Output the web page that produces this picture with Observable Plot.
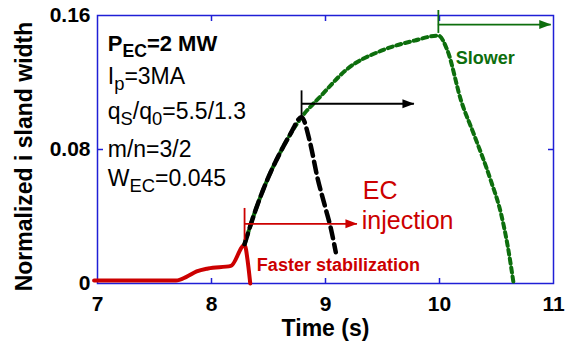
<!DOCTYPE html>
<html><head><meta charset="utf-8">
<script src="https://cdn.jsdelivr.net/npm/d3@7"></script>
<script src="https://cdn.jsdelivr.net/npm/@observablehq/plot@0.6"></script>
<style>body{margin:0;background:#fff} svg{display:block}</style>
</head><body><div id="chart"></div>
<script>
// ---- data ----
const xTicks = [7, 8, 9, 10, 11];
const xTickLabels = ["7", "8", "9", "10", "11"];
const xInnerTicks = [8, 9, 10];
const yTicks = [0, 0.08, 0.16];
const yInnerTicks = [0.08];
const yTickLabels = ["0", "0.08", "0.16"];

const redT = [6.97, 7.69, 7.78, 7.87, 7.97, 8.17, 8.29, 8.32, 8.34];
const redV = [0.0018, 0.0018, 0.0040, 0.0072, 0.0090, 0.0105, 0.0230, 0.0120, 0.0];

const blackT = [8.29, 8.39, 8.49, 8.59, 8.69, 8.79, 8.86, 8.93, 9.00, 9.05, 9.09];
const blackV = [0.0235, 0.0445, 0.0620, 0.0765, 0.0890, 0.0993, 0.0854, 0.063, 0.045, 0.032, 0.0187];

const greenT = [8.29, 8.39, 8.49, 8.59, 8.69, 8.79, 8.96, 9.19, 9.49, 9.78, 9.99, 10.07, 10.19, 10.30, 10.45, 10.54, 10.60, 10.65];
const greenV = [0.0235, 0.0445, 0.0620, 0.0765, 0.0890, 0.0993, 0.112, 0.128, 0.139, 0.145, 0.148, 0.139, 0.109, 0.0894, 0.0615, 0.0416, 0.0217, 0.0];

// EC switch-on markers (vertical tick + arrow)
const markerColor = ["#cc0000", "#000000", "#0d6e0d"];
const markerT = [8.29, 8.79, 9.99];
const markerTickLo = [0.0257, 0.099, 0.1493];
const markerTickHi = [0.0448, 0.115, 0.163];
const markerArrowV = [0.0356, 0.1073, 0.1546];
const markerArrowEnd = [9.28, 9.78, 10.98];

const infoLines = ["P_{EC}=2 MW", "I_{p}=3MA", "q_{S}/q_{0}=5.5/1.3", "m/n=3/2", "W_{EC}=0.045"];
const infoV = [0.1391, 0.1194, 0.0985, 0.0758, 0.0585];
const infoT = [7.09, 7.09, 7.09, 7.09, 7.09];

const ecText = ["EC", "injection"];
const ecT = [9.327, 9.318];
const ecV = [0.0507, 0.0328];
const fastText = ["Faster stabilization"], fastT = [8.398], fastV = [0.0073];
const slowText = ["Slower"], slowT = [10.143], slowV = [0.1313];

const xLabel = "Time (s)";
const yLabel = "Normalized i sland width";

// ---- build tables ----
const zip = (T, V) => T.map((t, i) => ({t, v: V[i]}));
const red = zip(redT, redV), black = zip(blackT, blackV), green = zip(greenT, greenV);
const markers = markerT.map((t, i) => ({t, lo: markerTickLo[i], hi: markerTickHi[i], v: markerArrowV[i], end: markerArrowEnd[i], color: markerColor[i]}));
const info = infoLines.map((s, i) => ({s, t: infoT[i], v: infoV[i]}));
const ec = ecText.map((s, i) => ({s, t: ecT[i], v: ecV[i]}));
const fast = fastText.map((s, i) => ({s, t: fastT[i], v: fastV[i]}));
const slow = slowText.map((s, i) => ({s, t: slowT[i], v: slowV[i]}));

const RED = "#cc0000", GREEN = "#0d6e0d", BLUE = "#1f1fd6";
const FONT = "'Liberation Sans', Arial, Helvetica, sans-serif";
const arrowHead = {draw(ctx) { ctx.moveTo(0, 0); ctx.lineTo(-12, -4.5); ctx.lineTo(-12, 4.5); ctx.closePath(); }};

const plot = Plot.plot({
  width: 569, height: 343,
  marginLeft: 97, marginRight: 16, marginTop: 15, marginBottom: 60,
  style: {fontFamily: FONT, background: "#fff", color: "#000"},
  x: {domain: [7, 11]},
  y: {domain: [0, 0.16]},
  marks: [
    // tick labels
    Plot.axisX(xTicks, {tickSize: 0, tickPadding: 13, fontSize: 21, fontWeight: "bold", label: null, stroke: "none",
      tickFormat: d => xTickLabels[xTicks.indexOf(d)]}),
    Plot.axisY(yTicks, {tickSize: 0, tickPadding: 7, fontSize: 21, fontWeight: "bold", label: null, stroke: "none",
      tickFormat: d => yTickLabels[yTicks.indexOf(d)]}),
    // inward ticks
    Plot.axisX(xInnerTicks, {anchor: "bottom", tickSize: -5, stroke: BLUE, strokeWidth: 1.5, fill: "none", label: null}),
    Plot.axisX(xInnerTicks, {anchor: "top", tickSize: -5, stroke: BLUE, strokeWidth: 1.5, fill: "none", label: null}),
    Plot.axisY(yInnerTicks, {anchor: "left", tickSize: -6, stroke: BLUE, strokeWidth: 1.5, fill: "none", label: null}),
    Plot.axisY(yInnerTicks, {anchor: "right", tickSize: -6, stroke: BLUE, strokeWidth: 1.5, fill: "none", label: null}),
    Plot.frame({stroke: BLUE, strokeWidth: 1.5}),
    // curves
    Plot.line(red, {x: "t", y: "v", stroke: RED, strokeWidth: 4, curve: "monotone-x", strokeLinejoin: "round"}),
    Plot.line(green, {x: "t", y: "v", stroke: GREEN, strokeWidth: 4, curve: "monotone-x", strokeDasharray: "5,4"}),
    Plot.line(black, {x: "t", y: "v", stroke: "#000", strokeWidth: 4.5, curve: "monotone-x", strokeDasharray: "11,6"}),
    // markers
    Plot.ruleX(markers, {x: "t", y1: "lo", y2: "hi", stroke: "color", strokeWidth: 1.8}),
    Plot.ruleY(markers, {y: "v", x1: "t", x2: "end", stroke: "color", strokeWidth: 1.8}),
    Plot.dot(markers, {x: "end", y: "v", symbol: arrowHead, fill: "color", stroke: "none", r: 3}),
    // texts
    Plot.text(info.slice(0, 1), {x: "t", y: "v", text: "s", textAnchor: "start", lineAnchor: "bottom", fontSize: 22, fontWeight: "bold"}),
    Plot.text(info.slice(1), {x: "t", y: "v", text: "s", textAnchor: "start", lineAnchor: "bottom", fontSize: 23}),
    Plot.text(ec, {x: "t", y: "v", text: "s", textAnchor: "start", lineAnchor: "bottom", fontSize: 25, fill: RED}),
    Plot.text(fast, {x: "t", y: "v", text: "s", textAnchor: "start", lineAnchor: "bottom", fontSize: 18, fontWeight: "bold", fill: RED}),
    Plot.text(slow, {x: "t", y: "v", text: "s", textAnchor: "start", lineAnchor: "bottom", fontSize: 18, fontWeight: "bold", fill: GREEN}),
    Plot.text([xLabel], {frameAnchor: "bottom", dy: 52, textAnchor: "middle", lineAnchor: "bottom", fontSize: 23, fontWeight: "bold"}),
    Plot.text([yLabel], {frameAnchor: "left", dx: -73, dy: 7, rotate: -90, textAnchor: "middle", lineAnchor: "middle", fontSize: 23, fontWeight: "bold"})
  ]
});

// subscripts: turn "_{...}" into lowered, smaller tspans
const NS = "http://www.w3.org/2000/svg";
plot.querySelectorAll("text").forEach(el => {
  const s = el.textContent;
  if (!s.includes("_{")) return;
  const fs = parseFloat(el.closest("[font-size]")?.getAttribute("font-size")) || 20;
  const shift = fs * 0.28;
  el.textContent = "";
  const parts = s.split(/(_\{[^}]*\})/).filter(p => p !== "");
  let lowered = false;
  for (const p of parts) {
    const ts = document.createElementNS(NS, "tspan");
    if (p.startsWith("_{")) {
      ts.textContent = p.slice(2, -1);
      ts.setAttribute("font-size", fs * 0.8);
      if (!lowered) { ts.setAttribute("dy", shift); lowered = true; }
    } else {
      ts.textContent = p;
      if (lowered) { ts.setAttribute("dy", -shift); lowered = false; }
    }
    el.appendChild(ts);
  }
});
document.getElementById("chart").appendChild(plot);
</script>
</body></html>
